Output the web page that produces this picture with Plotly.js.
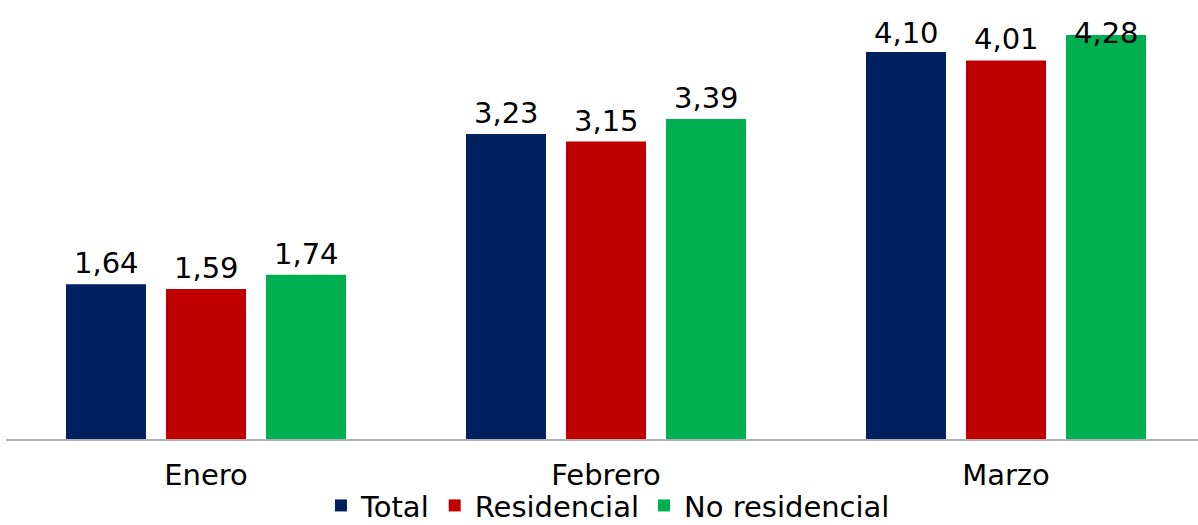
<!DOCTYPE html>
<html><head><meta charset="utf-8">
<script src="https://cdn.plot.ly/plotly-3.0.1.min.js"></script>
<style>html,body{margin:0;padding:0;background:#fff;}#chart{width:1198px;height:525px;}</style>
</head><body><div id="chart"></div>
<script>
const categories = ["Enero", "Febrero", "Marzo"];
const seriesNames = ["Total", "Residencial", "No residencial"];
const totalValues = [1.64, 3.23, 4.10];
const residencialValues = [1.59, 3.15, 4.01];
const noResidencialValues = [1.74, 3.39, 4.28];
const colors = ["#002060", "#C00000", "#00B050"];

const FONT = "Century Gothic, 'DejaVu Sans', sans-serif";
const fmt = v => v.toFixed(2).replace(".", ",");
const allSeries = [totalValues, residencialValues, noResidencialValues];

const traces = allSeries.map((vals, i) => ({
  type: "bar",
  name: seriesNames[i],
  x: categories,
  y: vals,
  marker: {color: colors[i]},
  hoverinfo: "skip"
}));

// labels as annotations, kept inside the canvas at the top
const offsets = [-1, 0, 1];
const annotations = [];
allSeries.forEach((vals, i) => {
  vals.forEach((v, j) => {
    annotations.push({
      x: j + offsets[i] * 0.25, xref: "x",
      y: Math.min(v, 4.08), yref: "y",
      yanchor: "bottom", yshift: 2,
      text: fmt(v), showarrow: false,
      font: {family: FONT, size: 29, color: "#000"}
    });
  });
});

const layout = {
  width: 1198, height: 525,
  margin: {l: 6, r: 0, t: 0, b: 86},
  paper_bgcolor: "#fff", plot_bgcolor: "#fff",
  barmode: "group", bargap: 0.25, bargroupgap: 0.2,
  xaxis: {
    range: [-0.5, 2.48], showgrid: false, zeroline: false,
    showline: true, linecolor: "#b0b0b0", linewidth: 2,
    ticks: "", ticklabelstandoff: 9,
    tickfont: {family: FONT, size: 29, color: "#000"}
  },
  yaxis: {
    range: [0, 4.65], visible: false, showgrid: false, zeroline: false
  },
  showlegend: true,
  legend: {
    orientation: "h", x: 0.505, xanchor: "center",
    yref: "container", y: 0.037, yanchor: "middle",
    bgcolor: "rgba(0,0,0,0)",
    font: {family: FONT, size: 29, color: "#000"},
    itemwidth: 30, traceorder: "normal"
  },
  annotations: annotations
};

Plotly.newPlot("chart", traces, layout, {displayModeBar: false, staticPlot: true});
</script></body></html>
